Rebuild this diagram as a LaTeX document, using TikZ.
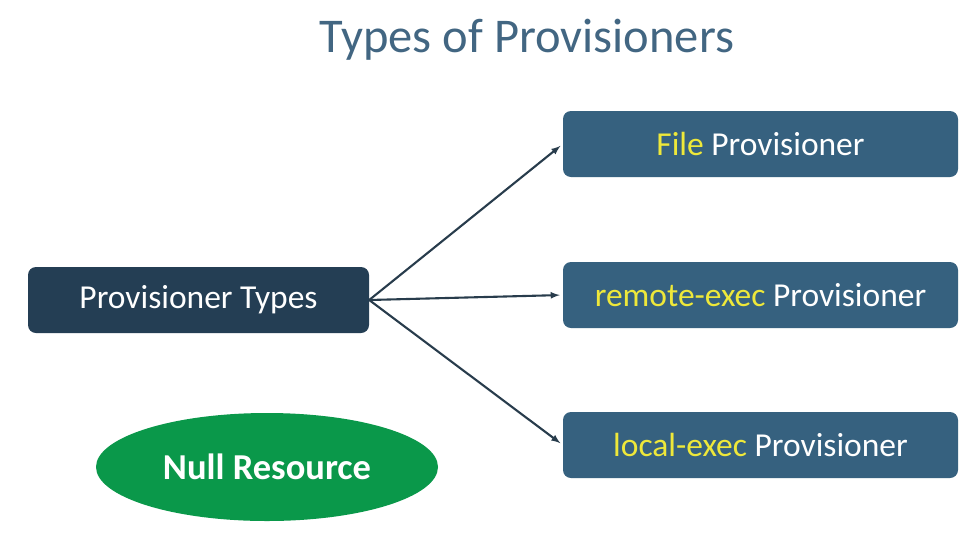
\documentclass[tikz,border=0pt]{standalone}
\usepackage{fontspec}
\setmainfont{Carlito}
\usepackage{xcolor}
\usepackage{tikz}
\usetikzlibrary{shapes.geometric, arrows, positioning}
\definecolor{titleblue}{RGB}{66, 102, 130}
\definecolor{navybox}{RGB}{36, 62, 84}
\definecolor{steelbox}{RGB}{54, 97, 127}
\definecolor{nullgreen}{RGB}{10, 152, 74}
\definecolor{hiyellow}{RGB}{238, 232, 58}
\definecolor{arrowgray}{RGB}{40, 60, 76}

\tikzset{
    typebox/.style={rectangle, rounded corners=8pt, fill=steelbox, text=white,
        minimum width=395pt, minimum height=66pt, inner sep=0pt,
        font=\fontsize{33.5}{40}\selectfont},
    rootbox/.style={rectangle, rounded corners=8pt, fill=navybox, text=white,
        minimum width=341pt, minimum height=66pt, inner sep=0pt,
        font=\fontsize{33.5}{40}\selectfont},
    link/.style={draw=arrowgray, line width=2.1pt, -latex, shorten >=3pt}
}

\begin{document}
\begin{tikzpicture}[x=1pt, y=-1pt]
        \useasboundingbox[fill=white] (0,0) rectangle (976,536);

        % title
        \node[text=titleblue, font=\fontsize{48.5}{56}\selectfont] (title) at (527,40) {Types of Provisioners};

        % boxes
        \node[rootbox] (types) at (198.5,300) {Provisioner Types};
        \node[typebox] (file) at (760.5,144) {\textcolor{hiyellow}{File} Provisioner};
        \node[typebox] (remote) at (760.5,295) {\textcolor{hiyellow}{remote-exec} Provisioner};
        \node[typebox] (local) at (760.5,445) {\textcolor{hiyellow}{local-exec} Provisioner};

        % null resource
        \node[ellipse, fill=nullgreen, text=white, minimum width=342pt, minimum height=108pt,
            inner sep=0pt, font=\fontsize{36.5}{44}\selectfont\bfseries] (null) at (267,467) {Null Resource};

        % links
        \draw[link] (types.east) -- (file.west);
        \draw[link] (types.east) -- (remote.west);
        \draw[link] (types.east) -- (local.west);
    \end{tikzpicture}
\end{document}
